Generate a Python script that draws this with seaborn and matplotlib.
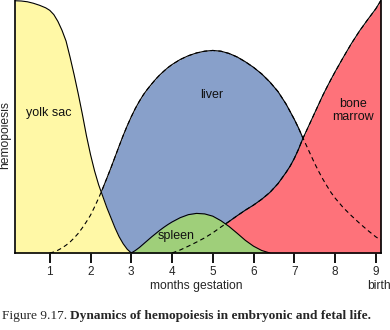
import matplotlib
matplotlib.use("Agg")
import matplotlib.pyplot as plt
import seaborn as sns

# ---- data ----
yolk_x = [0.15, 0.3, 0.45, 0.6, 0.75, 0.9, 1.0, 1.1, 1.2, 1.3, 1.4, 1.5, 1.6, 1.7, 1.8,
          1.9, 2.0, 2.1, 2.2, 2.3, 2.4, 2.5, 2.6, 2.7, 2.8, 2.9, 3.0]
yolk_y = [1.0, 0.999, 0.996, 0.99, 0.982, 0.972, 0.962, 0.945, 0.918, 0.883, 0.84, 0.775,
          0.705, 0.63, 0.55, 0.465, 0.39, 0.325, 0.27, 0.225, 0.18, 0.14, 0.10, 0.065,
          0.037, 0.015, 0.0]

liver_x = [1.0, 1.1, 1.2, 1.3, 1.4, 1.5, 1.6, 1.7, 1.8, 1.9, 2.0, 2.1, 2.2, 2.3, 2.4, 2.5,
           2.6, 2.7, 2.8, 2.9, 3.0, 3.1, 3.2, 3.3, 3.4, 3.5, 3.6, 3.7, 3.8, 3.9, 4.0, 4.2,
           4.4, 4.6, 4.8, 5.0, 5.2, 5.4, 5.6, 5.8, 6.0, 6.2, 6.4, 6.6, 6.8, 7.0, 7.1, 7.2,
           7.3, 7.4, 7.5, 7.6, 7.7, 7.8, 7.9, 8.0, 8.2, 8.4, 8.6, 8.8, 9.0, 9.12]
liver_y = [0.0, 0.004, 0.011, 0.02, 0.031, 0.044, 0.06, 0.078, 0.10, 0.124, 0.15, 0.183,
           0.218, 0.256, 0.296, 0.337, 0.38, 0.423, 0.465, 0.504, 0.54, 0.573, 0.602, 0.628,
           0.65, 0.67, 0.689, 0.706, 0.721, 0.735, 0.747, 0.767, 0.782, 0.793, 0.8, 0.803,
           0.8, 0.791, 0.777, 0.758, 0.736, 0.71, 0.678, 0.64, 0.59, 0.53, 0.497, 0.46,
           0.425, 0.39, 0.355, 0.323, 0.293, 0.266, 0.24, 0.218, 0.18, 0.148, 0.118, 0.09,
           0.064, 0.052]

spleen_x = [3.0, 3.1, 3.2, 3.3, 3.4, 3.5, 3.6, 3.7, 3.8, 3.9, 4.0, 4.2, 4.4, 4.6, 4.8, 5.0,
            5.2, 5.4, 5.6, 5.8, 6.0, 6.2, 6.4]
spleen_y = [0.0, 0.01, 0.022, 0.036, 0.05, 0.064, 0.077, 0.09, 0.102, 0.113, 0.123, 0.14,
            0.152, 0.157, 0.155, 0.146, 0.128, 0.105, 0.078, 0.05, 0.027, 0.01, 0.0]

marrow_x = [4.0, 4.2, 4.4, 4.6, 4.8, 5.0, 5.2, 5.4, 5.6, 5.8, 6.0, 6.2, 6.4, 6.6, 6.8, 6.9,
            7.0, 7.1, 7.2, 7.3, 7.4, 7.5, 7.6, 7.7, 7.8, 7.9, 8.0, 8.2, 8.4, 8.6, 8.8, 9.0,
            9.12]
marrow_y = [0.0, 0.012, 0.027, 0.043, 0.06, 0.08, 0.103, 0.125, 0.148, 0.17, 0.19, 0.213,
            0.24, 0.275, 0.32, 0.345, 0.375, 0.41, 0.45, 0.485, 0.52, 0.555, 0.59, 0.625,
            0.657, 0.688, 0.718, 0.775, 0.83, 0.88, 0.925, 0.968, 1.0]

month_ticks = [1, 2, 3, 4, 5, 6, 7, 8, 9]
month_labels = ["1", "2", "3", "4", "5", "6", "7", "8", "9"]

region_labels = ["yolk sac", "liver", "spleen", "bone\nmarrow"]
label_x = [0.98, 4.98, 4.10, 8.44]
label_y = [0.557, 0.625, 0.067, 0.565]

caption_plain = "Figure 9.17. "
caption_bold = "Dynamics of hemopoiesis in embryonic and fetal life."

# ---- style ----
sns.set_theme(style="white")
plt.rcParams["font.family"] = ["Liberation Sans", "DejaVu Sans"]

YELLOW = "#FFF8A6"
BLUE = "#88A0CA"
GREEN = "#9FCF7A"
RED = "#FE727A"

fig = plt.figure(figsize=(3.9, 3.3), dpi=100)
ax = fig.add_axes([15 / 390, 1 - 253 / 330, (380.7 - 15) / 390, 253 / 330])
ax.set_facecolor("white")

lw = 0.8
# liver
ax.fill_between(liver_x, 0, liver_y, color=BLUE, lw=0, zorder=1)
sns.lineplot(x=liver_x, y=liver_y, ax=ax, color="black", lw=lw, zorder=1.5, estimator=None)
# bone marrow
ax.fill_between(marrow_x, 0, marrow_y, color=RED, lw=0, zorder=2)
sns.lineplot(x=marrow_x, y=marrow_y, ax=ax, color="black", lw=lw, zorder=2.5, estimator=None)
# spleen
ax.fill_between(spleen_x, 0, spleen_y, color=GREEN, lw=0, zorder=3)
sns.lineplot(x=spleen_x, y=spleen_y, ax=ax, color="black", lw=lw, zorder=3.5, estimator=None)
# yolk sac
ax.fill_between(yolk_x, 0, yolk_y, color=YELLOW, lw=0, zorder=4)
sns.lineplot(x=yolk_x, y=yolk_y, ax=ax, color="black", lw=lw, zorder=4.5, estimator=None)
# hidden continuations, dashed
sns.lineplot(x=liver_x, y=liver_y, ax=ax, color="black", lw=lw, zorder=5,
             linestyle=(0, (4, 3)), estimator=None)
sns.lineplot(x=marrow_x, y=marrow_y, ax=ax, color="black", lw=lw, zorder=5,
             linestyle=(0, (4, 3)), estimator=None)

for t, x, y in zip(region_labels, label_x, label_y):
    ax.text(x, y, t, ha="center", va="center", fontsize=9, color="#111111",
            zorder=6, linespacing=1.2)

ax.set_xlim(0.147, 9.12)
ax.set_ylim(0, 1.003)
ax.set_xticks(month_ticks)
ax.set_xticklabels(month_labels, fontsize=8.5)
ax.set_yticks([])
ax.tick_params(axis="x", direction="out", length=7, width=1.3, pad=2.5,
               bottom=True, color="black")
for side in ["left", "bottom", "right"]:
    ax.spines[side].set_visible(True)
    ax.spines[side].set_color("black")
    ax.spines[side].set_linewidth(1.2)
    ax.spines[side].set_zorder(7)
ax.spines["top"].set_visible(False)
ax.set_xlabel("")
ax.set_ylabel("")

fig.text(196 / 390, 1 - 286 / 330, "months gestation", ha="center", va="center", fontsize=8.7)
fig.text(378.5 / 390, 1 - 286 / 330, "birth", ha="center", va="center", fontsize=8.7)
fig.text(5 / 390, 1 - 135 / 330, "hemopoiesis", ha="center", va="center", rotation=90,
         fontsize=8.7)

serif = ["Liberation Serif", "DejaVu Serif"]
t1 = fig.text(2 / 390, 1 - 316 / 330, caption_plain, ha="left", va="center",
              fontsize=9.6, family=serif)
ax.annotate(caption_bold, xy=(1, 0), xycoords=t1, xytext=(0, 0), textcoords="offset points",
            ha="left", va="bottom", fontsize=9.6, fontweight="bold",
            family=serif, annotation_clip=False)

fig.savefig("out.png", dpi=100)
